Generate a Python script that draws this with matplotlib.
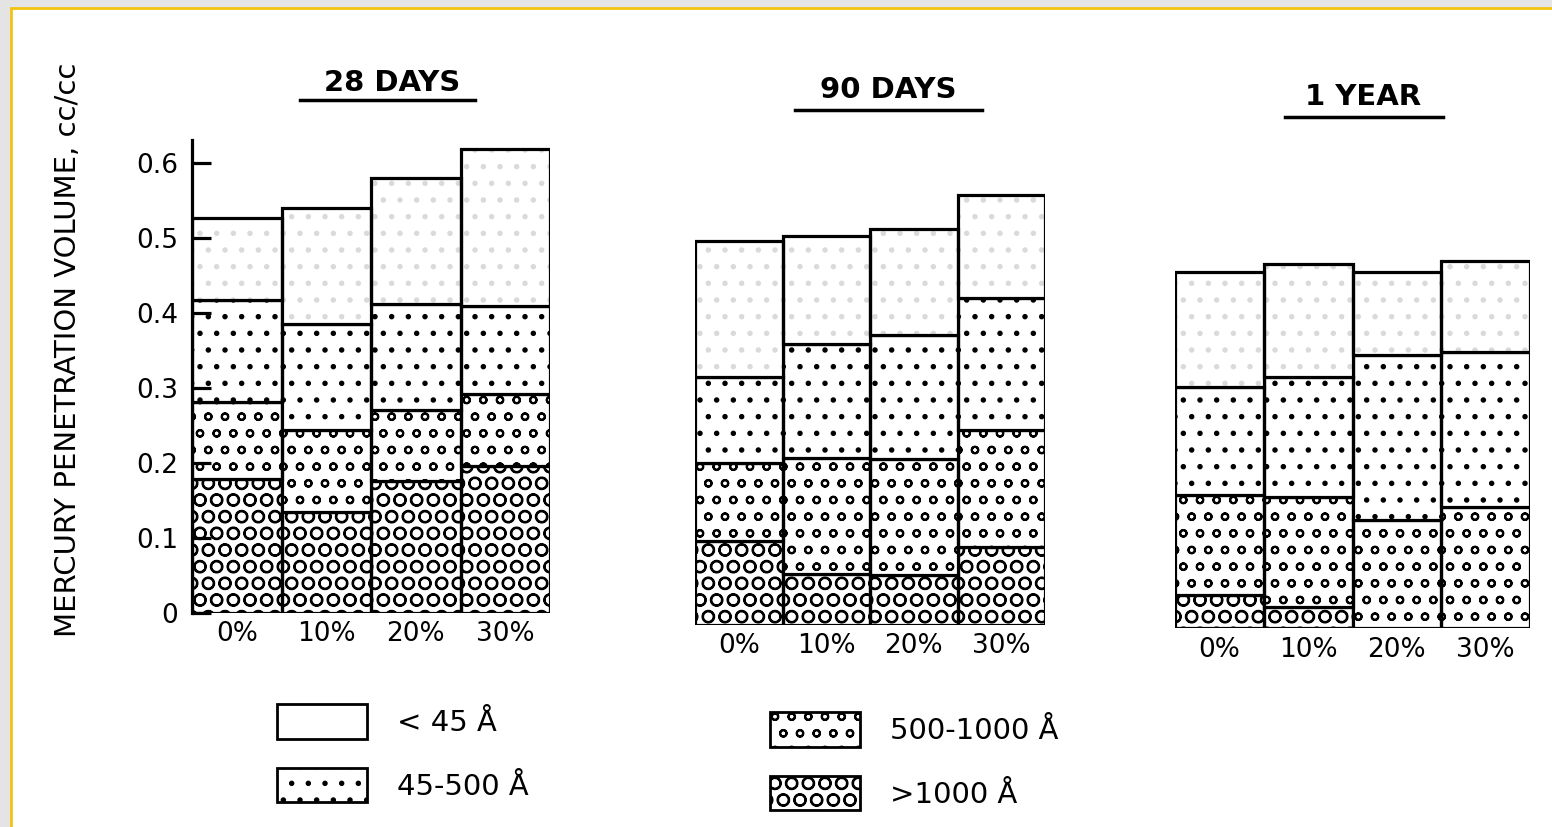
import numpy as np
import matplotlib
matplotlib.use("Agg")
import matplotlib.pyplot as plt
from matplotlib.patches import Patch, Rectangle
from matplotlib.lines import Line2D

# data (volumes in cc/cc)
mixes = ["0%", "10%", "20%", "30%"]
panel_titles = ["28 DAYS", "90 DAYS", "1 YEAR"]
classes = ["< 45 Å", "45-500 Å", "500-1000 Å", ">1000 Å"]
ytick_vals = [0, 0.1, 0.2, 0.3, 0.4, 0.5, 0.6]
ytick_labels = ["0", "0.1", "0.2", "0.3", "0.4", "0.5", "0.6"]

# 28 days
d28_over1000 = [0.178, 0.134, 0.176, 0.196]
d28_500_1000 = [0.103, 0.110, 0.094, 0.096]
d28_45_500 = [0.136, 0.141, 0.142, 0.117]
d28_under45 = [0.109, 0.155, 0.168, 0.209]

# 90 days
d90_over1000 = [0.112, 0.068, 0.067, 0.104]
d90_500_1000 = [0.104, 0.155, 0.155, 0.156]
d90_45_500 = [0.115, 0.152, 0.165, 0.176]
d90_under45 = [0.181, 0.144, 0.141, 0.137]

# 1 year
y1_over1000 = [0.044, 0.029, 0.0, 0.0]
y1_500_1000 = [0.134, 0.146, 0.144, 0.162]
y1_45_500 = [0.144, 0.160, 0.220, 0.207]
y1_under45 = [0.153, 0.151, 0.111, 0.121]

panels = [
    [d28_over1000, d28_500_1000, d28_45_500, d28_under45],
    [d90_over1000, d90_500_1000, d90_45_500, d90_under45],
    [y1_over1000, y1_500_1000, y1_45_500, y1_under45],
]

# hatch for each layer, bottom to top
hatches = ["O", "o", ".", "."]
hatch_colors = ["black", "black", "black", "#dadada"]
legend_hatches = {"< 45 Å": "", "45-500 Å": ".", "500-1000 Å": "o", ">1000 Å": "O"}

plt.rcParams["font.family"] = "DejaVu Sans"
plt.rcParams["hatch.linewidth"] = 1.5

W, H = 1552, 827
fig = plt.figure(figsize=(W / 100, H / 100), dpi=100, facecolor="#e4e4e4")

# white page with yellow frame
fig.add_artist(Rectangle((11 / W, -0.02), 1.02, 1 - 8 / H + 0.02, transform=fig.transFigure,
                         facecolor="white", edgecolor="#f2c40f", linewidth=2, zorder=-5))

# axes boxes in pixels: left, right, baseline
boxes = [(192, 550, 612.7), (695, 1045, 625), (1175, 1530, 628.3)]
px_per_unit = 750.0
ytop = 0.66

for i, (vals, (xl, xr, base)) in enumerate(zip(panels, boxes)):
    hpx = ytop * px_per_unit
    ax = fig.add_axes([xl / W, 1 - base / H, (xr - xl) / W, hpx / H])
    ax.set_facecolor("none")
    x = np.arange(len(mixes))
    bottom = np.zeros(len(mixes))
    for layer, h, hc in zip(vals, hatches, hatch_colors):
        layer = np.array(layer)
        ax.bar(x, layer, bottom=bottom, width=1.0, color="white", hatch=h,
               edgecolor=hc, linewidth=0)
        ax.bar(x, layer, bottom=bottom, width=1.0, fill=False,
               edgecolor="black", linewidth=2.3)
        bottom = bottom + layer
    ax.set_xlim(-0.5, 3.5)
    ax.set_ylim(0, ytop)
    for s in ["top", "right", "bottom"]:
        ax.spines[s].set_visible(False)
    ax.set_xticks(x, mixes)
    ax.tick_params(axis="x", length=0, pad=6, labelsize=19)
    if i == 0:
        ax.spines["left"].set_linewidth(2.3)
        ax.spines["left"].set_bounds(0, 0.63)
        ax.set_yticks(ytick_vals, ytick_labels)
        ax.tick_params(axis="y", direction="in", length=14, width=2.3, pad=10, labelsize=19)
    else:
        ax.spines["left"].set_visible(False)
        ax.set_yticks([])

# panel titles with underline
title_pos = [(392, 83, 300, 475, 100), (888, 90, 795, 982, 110), (1363, 97, 1285, 1443, 117)]
for t, (cx, cy, u0, u1, uy) in zip(panel_titles, title_pos):
    fig.text(cx / W, 1 - cy / H, t, ha="center", va="center", fontsize=21, fontweight="bold")
    fig.add_artist(Line2D([u0 / W, u1 / W], [1 - uy / H, 1 - uy / H], transform=fig.transFigure,
                          color="black", linewidth=2.5))

fig.text(68 / W, 1 - 350 / H, "MERCURY PENETRATION VOLUME, cc/cc", rotation=90,
         ha="center", va="center", fontsize=21)

# legend in two columns
def make_handles(names):
    return [Patch(facecolor="white", edgecolor="black", hatch=legend_hatches[n], linewidth=2.0)
            for n in names]

leg_kw = dict(frameon=False, fontsize=21, handlelength=3.1, handleheight=1.45,
              handletextpad=1.0, labelspacing=1.0, borderpad=0, borderaxespad=0, loc="upper left")
leg1 = fig.legend(make_handles(classes[:2]), classes[:2],
                  bbox_to_anchor=(277 / W, 1 - 704 / H), **leg_kw)
leg2 = fig.legend(make_handles(classes[2:]), classes[2:],
                  bbox_to_anchor=(770 / W, 1 - 712 / H), **leg_kw)

fig.savefig("out.png", dpi=100, facecolor=fig.get_facecolor())
